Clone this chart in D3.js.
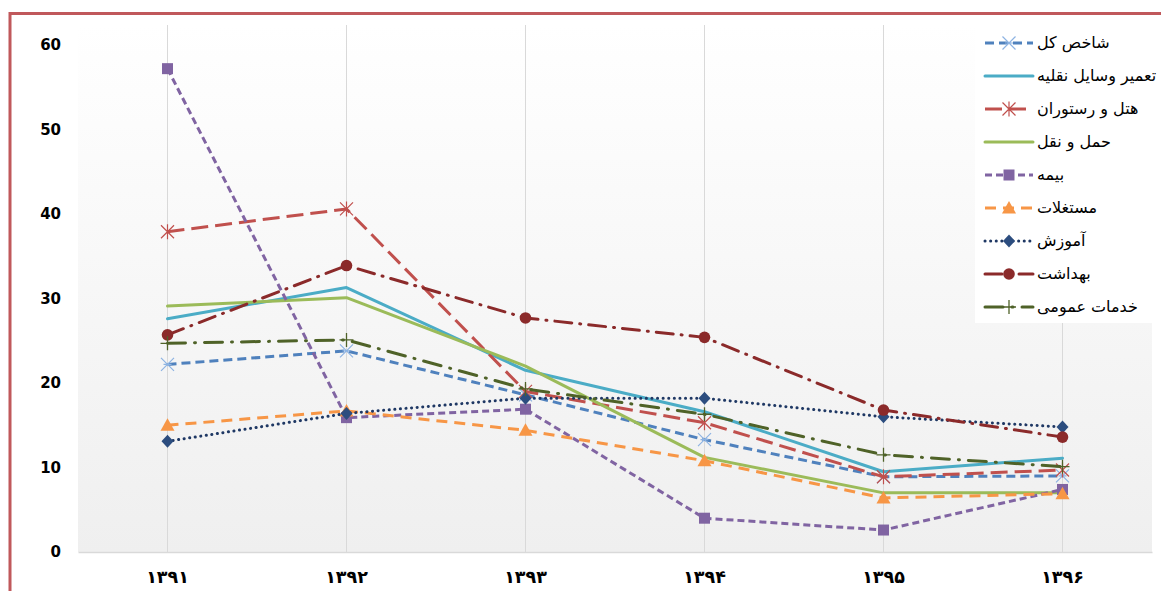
<!DOCTYPE html>
<html>
<head>
<meta charset="utf-8">
<script src="https://cdn.jsdelivr.net/npm/d3@7"></script>
<style>
  html, body { margin: 0; padding: 0; background: #ffffff; }
  svg { display: block; }
</style>
</head>
<body>
<svg id="chart" width="1161" height="591"></svg>
<script>
// Years (Persian calendar) on the category axis
const years = ["۱۳۹۱", "۱۳۹۲", "۱۳۹۳", "۱۳۹۴", "۱۳۹۵", "۱۳۹۶"];
const yTicks = [0, 10, 20, 30, 40, 50, 60];

// Series names
const seriesNames = [
  "شاخص کل",
  "تعمیر وسایل نقلیه",
  "هتل و رستوران",
  "حمل و نقل",
  "بیمه",
  "مستغلات",
  "آموزش",
  "بهداشت",
  "خدمات عمومی"
];

// Series values, one per year
const totalIndex   = [22.2, 23.8, 18.6, 13.3, 8.9, 9.0];
const vehicleRepair = [27.6, 31.3, 21.5, 16.6, 9.5, 11.1];
const hotels       = [37.9, 40.6, 19.0, 15.3, 8.9, 9.7];
const transport    = [29.1, 30.1, 22.0, 11.2, 7.0, 7.0];
const insurance    = [57.2, 15.9, 16.9, 4.0, 2.6, 7.4];
const realEstate   = [15.0, 16.7, 14.4, 10.8, 6.4, 6.9];
const education    = [13.1, 16.4, 18.2, 18.2, 16.0, 14.8];
const health       = [25.7, 33.9, 27.7, 25.4, 16.8, 13.6];
const publicServ   = [24.7, 25.1, 19.3, 16.3, 11.5, 10.1];

const seriesValues = [totalIndex, vehicleRepair, hotels, transport, insurance,
                      realEstate, education, health, publicServ];

// Styling for each series: colour, dash pattern, marker
const styles = [
  { color: "#4f81bd", dash: "9,5",        cap: "butt",  marker: "star",     mcolor: "#8db3e2" },
  { color: "#4bacc6", dash: null,         cap: "round", marker: null,       mcolor: "#4bacc6" },
  { color: "#c0504d", dash: "17,7",       cap: "butt",  marker: "asterisk", mcolor: "#c0504d" },
  { color: "#9bbb59", dash: null,         cap: "round", marker: null,       mcolor: "#9bbb59" },
  { color: "#8064a2", dash: "7,4",        cap: "butt",  marker: "square",   mcolor: "#8064a2" },
  { color: "#f79646", dash: "11,7",       cap: "butt",  marker: "triangle", mcolor: "#f79646" },
  { color: "#1f3864", dash: "0.1,5.5",    cap: "round", marker: "diamond",  mcolor: "#2c4d7f" },
  { color: "#8b2a2a", dash: "17,8,1,8",   cap: "round", marker: "circle",   mcolor: "#8b2a2a" },
  { color: "#4f6228", dash: "18,9,1,9",   cap: "round", marker: "plus",     mcolor: "#4f6228" }
];

const svg = d3.select("#chart");
const W = 1161, H = 591;
const plot = { left: 78, right: 1152, top: 45, bottom: 552 };

const x = d3.scaleBand().domain(years).range([plot.left, plot.right]);
const xc = d => x(d) + x.bandwidth() / 2;
const y = d3.scaleLinear().domain([0, 60]).range([plot.bottom, plot.top]);

// Chart border (top and left edges visible)
svg.append("line").attr("x1", 10).attr("x2", W).attr("y1", 13.5).attr("y2", 13.5)
  .attr("stroke", "#c0585b").attr("stroke-width", 3);
svg.append("line").attr("x1", 10).attr("x2", 10).attr("y1", 12).attr("y2", H)
  .attr("stroke", "#c0585b").attr("stroke-width", 3);

// Plot-area gradient fill
const defs = svg.append("defs");
const grad = defs.append("linearGradient").attr("id", "plotBg")
  .attr("x1", 0).attr("x2", 0).attr("y1", 0).attr("y2", 1);
grad.append("stop").attr("offset", "0%").attr("stop-color", "#ffffff");
grad.append("stop").attr("offset", "100%").attr("stop-color", "#efefef");

svg.append("rect")
  .attr("x", plot.left).attr("y", plot.top - 20)
  .attr("width", plot.right - plot.left).attr("height", plot.bottom - plot.top + 20)
  .attr("fill", "url(#plotBg)");

// Vertical gridlines at each category
svg.append("g").selectAll("line").data(years).join("line")
  .attr("x1", d => xc(d)).attr("x2", d => xc(d))
  .attr("y1", plot.top - 20).attr("y2", plot.bottom)
  .attr("stroke", "#d9d9d9").attr("stroke-width", 1);

// Category axis
const xAxis = svg.append("g")
  .attr("transform", `translate(0,${plot.bottom})`)
  .call(d3.axisBottom(x).tickSize(0).tickPadding(19));
xAxis.select(".domain").attr("stroke", "#d9d9d9").attr("stroke-width", 1.5);
xAxis.selectAll("text")
  .attr("font-family", "DejaVu Sans, sans-serif")
  .attr("font-size", 17.5).attr("font-weight", "bold").attr("fill", "#000");

// Value axis (labels only)
const yAxis = svg.append("g")
  .attr("transform", `translate(${plot.left},0)`)
  .call(d3.axisLeft(y).tickValues(yTicks).tickSize(0).tickPadding(17).tickFormat(d3.format("d")));
yAxis.select(".domain").remove();
yAxis.selectAll("text")
  .attr("font-family", "DejaVu Sans, sans-serif")
  .attr("font-size", 15).attr("font-weight", "bold").attr("fill", "#000");

// Marker drawing helper
function drawMarker(g, type, cx, cy, st) {
  const c = st.mcolor;
  if (type === "square") {
    g.append("rect").attr("x", cx - 5.5).attr("y", cy - 5.5).attr("width", 11).attr("height", 11)
      .attr("fill", c);
  } else if (type === "triangle") {
    g.append("path").attr("d", `M${cx},${cy - 7}L${cx + 7},${cy + 5.5}L${cx - 7},${cy + 5.5}Z`)
      .attr("fill", c);
  } else if (type === "diamond") {
    g.append("path").attr("d", `M${cx},${cy - 6.5}L${cx + 6},${cy}L${cx},${cy + 6.5}L${cx - 6},${cy}Z`)
      .attr("fill", c);
  } else if (type === "circle") {
    g.append("circle").attr("cx", cx).attr("cy", cy).attr("r", 5.8).attr("fill", c);
  } else if (type === "plus") {
    g.append("path").attr("d", `M${cx - 7},${cy}H${cx + 7}M${cx},${cy - 7}V${cy + 7}`)
      .attr("stroke", c).attr("stroke-width", 1.3).attr("fill", "none");
  } else if (type === "star" || type === "asterisk") {
    const r = 6.5;
    const p = `M${cx - r},${cy - r}L${cx + r},${cy + r}M${cx - r},${cy + r}L${cx + r},${cy - r}` +
              (type === "asterisk" ? `M${cx},${cy - r - 1}V${cy + r + 1}` : `M${cx - 4},${cy}H${cx + 4}`);
    g.append("path").attr("d", p).attr("stroke", c).attr("stroke-width", 1.2).attr("fill", "none");
  }
}

// Series lines and markers
const line = d3.line().x((d, i) => xc(years[i])).y(d => y(d));
const seriesG = svg.append("g");
seriesValues.forEach((vals, si) => {
  const st = styles[si];
  const g = seriesG.append("g");
  g.append("path").datum(vals).attr("d", line)
    .attr("fill", "none").attr("stroke", st.color).attr("stroke-width", 3)
    .attr("stroke-linecap", st.cap).attr("stroke-linejoin", "round")
    .attr("stroke-dasharray", st.dash);
  if (st.marker) {
    vals.forEach((v, i) => drawMarker(g, st.marker, xc(years[i]), y(v), st));
  }
});

// Legend
const legend = svg.append("g");
legend.append("rect").attr("x", 975).attr("y", 25).attr("width", 178).attr("height", 298)
  .attr("fill", "#ffffff");
seriesNames.forEach((name, i) => {
  const st = styles[i];
  const ly = 43 + i * 33;
  const g = legend.append("g");
  g.append("line").attr("x1", 985).attr("x2", 1033).attr("y1", ly).attr("y2", ly)
    .attr("stroke", st.color).attr("stroke-width", 3)
    .attr("stroke-linecap", st.cap)
    .attr("stroke-dasharray", st.dash);
  if (st.marker) drawMarker(g, st.marker, 1009, ly, st);
  g.append("text").attr("x", 1037).attr("y", ly).attr("dy", "0.32em")
    .attr("font-family", "DejaVu Sans, sans-serif").attr("font-size", 16)
    .attr("fill", "#000").text(name);
});
</script>
</body>
</html>
